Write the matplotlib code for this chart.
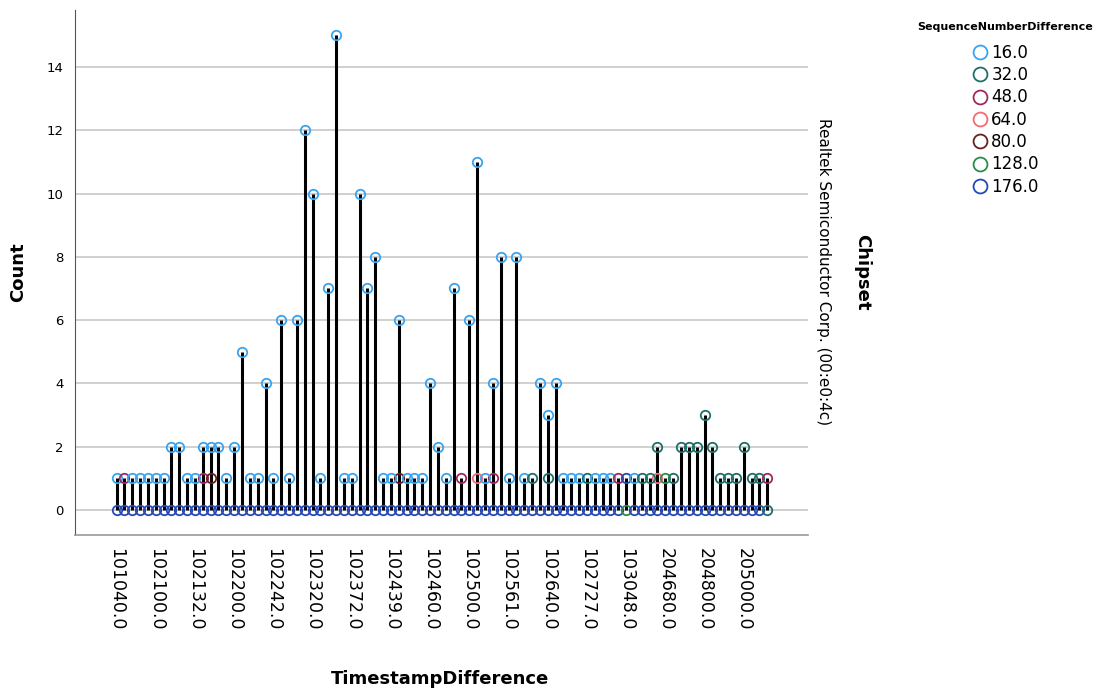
import matplotlib
matplotlib.use("Agg")
import matplotlib.pyplot as plt
from matplotlib.lines import Line2D

# Data
seq_levels = [16.0, 32.0, 48.0, 64.0, 80.0, 128.0, 176.0]
tick_labels = ["101040.0", "102100.0", "102132.0", "102200.0", "102242.0",
               "102320.0", "102372.0", "102439.0", "102460.0", "102500.0",
               "102561.0", "102640.0", "102727.0", "103048.0", "204680.0",
               "204800.0", "205000.0"]
tick_step = 5

# highest count in each TimestampDifference category (84 categories)
top_count = [1, 1, 1, 1, 1, 1, 1, 2, 2, 1,
             1, 2, 2, 2, 1, 2, 5, 1, 1, 4,
             1, 6, 1, 6, 12, 10, 1, 7, 15, 1,
             1, 10, 7, 8, 1, 1, 6, 1, 1, 1,
             4, 2, 1, 7, 1, 6, 11, 1, 4, 8,
             1, 8, 1, 1, 4, 3, 4, 1, 1, 1,
             1, 1, 1, 1, 1, 1, 1, 1, 1, 2,
             1, 1, 2, 2, 2, 3, 2, 1, 1, 1,
             2, 1, 1, 1]
top_series = [16.0, 48.0, 16.0, 16.0, 16.0, 16.0, 16.0, 16.0, 16.0, 16.0,
              16.0, 16.0, 16.0, 16.0, 16.0, 16.0, 16.0, 16.0, 16.0, 16.0,
              16.0, 16.0, 16.0, 16.0, 16.0, 16.0, 16.0, 16.0, 16.0, 16.0,
              16.0, 16.0, 16.0, 16.0, 16.0, 16.0, 16.0, 16.0, 16.0, 16.0,
              16.0, 16.0, 16.0, 16.0, 48.0, 16.0, 16.0, 16.0, 16.0, 16.0,
              16.0, 16.0, 16.0, 32.0, 16.0, 16.0, 16.0, 16.0, 16.0, 16.0,
              32.0, 16.0, 16.0, 16.0, 48.0, 176.0, 16.0, 32.0, 32.0, 32.0,
              128.0, 32.0, 32.0, 32.0, 32.0, 32.0, 32.0, 32.0, 32.0, 32.0,
              32.0, 32.0, 32.0, 48.0]

# second series inside a category
extra_idx = [11, 12, 36, 46, 48, 55, 69]
extra_count = [1, 1, 1, 1, 1, 1, 1]
extra_series = [48.0, 80.0, 80.0, 64.0, 48.0, 32.0, 64.0]

# series whose zero-count circle is visible at the bottom
zero_default = 176.0
zero_exceptions = {65: 128.0, 83: 32.0}

colors = {16.0: "#3aa3ee", 32.0: "#1d6f67", 48.0: "#a0285f", 64.0: "#f56b73",
          80.0: "#66201f", 128.0: "#2b8a4c", 176.0: "#2648b5"}

fig = plt.figure(figsize=(11.08, 6.93), dpi=100)
W, H = 1108, 693
ax = fig.add_axes([75 / W, 1 - 535 / H, (808 - 75) / W, (535 - 10) / H])

n = len(top_count)
xs = list(range(n))

# drop lines
ax.vlines(xs, 0, top_count, color="black", linewidth=2.2, zorder=3)

msize = 6.8
mew = 1.3
# zero circles
zero_cols = [colors[zero_exceptions.get(i, zero_default)] for i in xs]
for i in xs:
    ax.plot(i, 0, "o", ms=msize, mfc="none", mec=zero_cols[i], mew=mew, zorder=4)
# secondary circles
for i, c, s in zip(extra_idx, extra_count, extra_series):
    ax.plot(i, c, "o", ms=msize, mfc="none", mec=colors[s], mew=mew, zorder=5)
# top circles
for i in xs:
    ax.plot(i, top_count[i], "o", ms=msize, mfc="none",
            mec=colors[top_series[i]], mew=mew, zorder=6)

ax.set_xlim(-5.3, 88.2)
ax.set_ylim(-0.79, 15.8)
ax.set_yticks(range(0, 15, 2))
ax.yaxis.grid(True, color="#c8c8c8", linewidth=1.2)
ax.set_axisbelow(True)
ax.set_xticks(range(0, n, tick_step))
ax.set_xticklabels(tick_labels, rotation=-90, fontsize=12.5)
ax.tick_params(axis="x", length=0, pad=9)
ax.tick_params(axis="y", length=0, pad=8, labelsize=9.5)
for s in ["top", "right"]:
    ax.spines[s].set_visible(False)
ax.spines["left"].set_color("#555555")
ax.spines["bottom"].set_color("#999999")
ax.spines["bottom"].set_linewidth(1.2)

fig.text(18 / W, 1 - 272 / H, "Count", rotation=90, fontsize=13, fontweight="bold",
         ha="center", va="center")
fig.text(440 / W, 1 - 679 / H, "TimestampDifference", fontsize=13, fontweight="bold",
         ha="center", va="center")
fig.text(862 / W, 1 - 272 / H, "Chipset", rotation=-90, fontsize=13, fontweight="bold",
         ha="center", va="center")
fig.text(823 / W, 1 - 272 / H, "Realtek Semiconductor Corp. (00:e0:4c)", rotation=-90,
         fontsize=11, ha="center", va="center")

# legend
fig.text(1005 / W, 1 - 27 / H, "SequenceNumberDifference", fontsize=8,
         fontweight="bold", ha="center", va="center")
handles = [Line2D([], [], marker="o", ls="none", ms=10, mfc="white", mec=colors[s],
                  mew=1.3, label=f"{s:.1f}") for s in seq_levels]
fig.legend(handles=handles, loc="upper left", bbox_to_anchor=(958 / W, 1 - 32 / H),
           frameon=False, fontsize=12, labelspacing=0.26, handletextpad=0.1,
           borderpad=0.2, handlelength=1.2)

fig.savefig("out.png", dpi=100)
